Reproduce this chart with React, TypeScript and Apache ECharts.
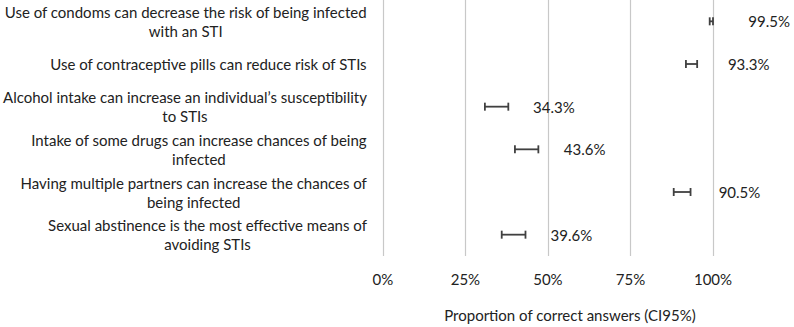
import React, { useEffect, useRef } from "react";
import * as echarts from "echarts";

// Survey statements (line breaks mark where each label wraps)
const statements = [
  "Use of condoms can decrease the risk of being infected\nwith an STI",
  "Use of contraceptive pills can reduce risk of STIs",
  "Alcohol intake can increase an individual’s susceptibility\nto STIs",
  "Intake of some drugs can increase chances of being\ninfected",
  "Having multiple partners can increase the chances of\nbeing infected",
  "Sexual abstinence is the most effective means of\navoiding STIs",
];

// Proportion of correct answers (%) with 95% confidence bounds
const proportion = [99.5, 93.3, 34.3, 43.6, 90.5, 39.6];
const ciLower = [99.0, 91.8, 30.9, 40.0, 88.1, 36.0];
const ciUpper = [100.0, 95.2, 38.0, 47.1, 93.2, 43.2];

const xMin = 0;
const xMax = 100;
const xStep = 25;
const xTitle = "Proportion of correct answers (CI95%)";

const FONT = "Lato, 'Open Sans', sans-serif";
const TEXT_COLOR = "#222222";

export default function App() {
  const ref = useRef<HTMLDivElement>(null);

  useEffect(() => {
    document.body.style.margin = "0";
    if (!ref.current) return;
    const chart = echarts.init(ref.current, undefined, { renderer: "svg" });

    const data = statements.map((_, i) => [i, ciLower[i], ciUpper[i], proportion[i]]);

    chart.setOption({
      animation: false,
      backgroundColor: "#ffffff",
      grid: { left: 380, right: 81, top: 0, bottom: 58, containLabel: false },
      xAxis: {
        type: "value",
        min: xMin,
        max: xMax,
        interval: xStep,
        axisLine: { show: false },
        axisTick: { show: false },
        splitLine: { show: true, lineStyle: { color: "#c8c8c8", width: 1.2 } },
        axisLabel: {
          formatter: (v: number) => `${v}%`,
          fontFamily: FONT,
          fontSize: 15,
          color: TEXT_COLOR,
          margin: 15,
        },
        name: xTitle,
        nameLocation: "middle",
        nameGap: 51,
        nameTextStyle: {
          fontFamily: FONT,
          fontSize: 15,
          color: TEXT_COLOR,
          padding: [0, 0, 0, 44],
        },
      },
      yAxis: {
        type: "category",
        data: statements,
        inverse: true,
        axisLine: { show: false },
        axisTick: { show: false },
        splitLine: { show: false },
        axisLabel: {
          margin: 16,
          formatter: (s: string) =>
            s
              .split("\n")
              .map((l) => `{c|${l}}`)
              .join("\n"),
          rich: {
            c: {
              align: "center",
              fontFamily: FONT,
              fontSize: 15,
              lineHeight: 19,
              color: TEXT_COLOR,
            },
          },
        },
      },
      series: [
        {
          type: "custom",
          data,
          encode: { y: 0, x: [1, 2, 3] },
          renderItem: (_params: any, api: any) => {
            const cat = api.value(0);
            const lo = api.coord([api.value(1), cat]);
            const hi = api.coord([api.value(2), cat]);
            const mid = api.coord([api.value(3), cat]);
            const cap = 4;
            const style = { stroke: "#404040", lineWidth: 1.8 };
            return {
              type: "group",
              children: [
                { type: "line", shape: { x1: lo[0], y1: lo[1], x2: hi[0], y2: hi[1] }, style },
                { type: "line", shape: { x1: lo[0], y1: lo[1] - cap, x2: lo[0], y2: lo[1] + cap }, style },
                { type: "line", shape: { x1: hi[0], y1: hi[1] - cap, x2: hi[0], y2: hi[1] + cap }, style },
                {
                  type: "text",
                  x: mid[0] + 37,
                  y: mid[1],
                  style: {
                    text: `${api.value(3).toFixed(1)}%`,
                    align: "left",
                    verticalAlign: "middle",
                    fontFamily: FONT,
                    fontSize: 15,
                    fill: TEXT_COLOR,
                  },
                },
              ],
            };
          },
        },
      ],
    });

    return () => chart.dispose();
  }, []);

  return <div ref={ref} style={{ width: 794, height: 327 }} />;
}
